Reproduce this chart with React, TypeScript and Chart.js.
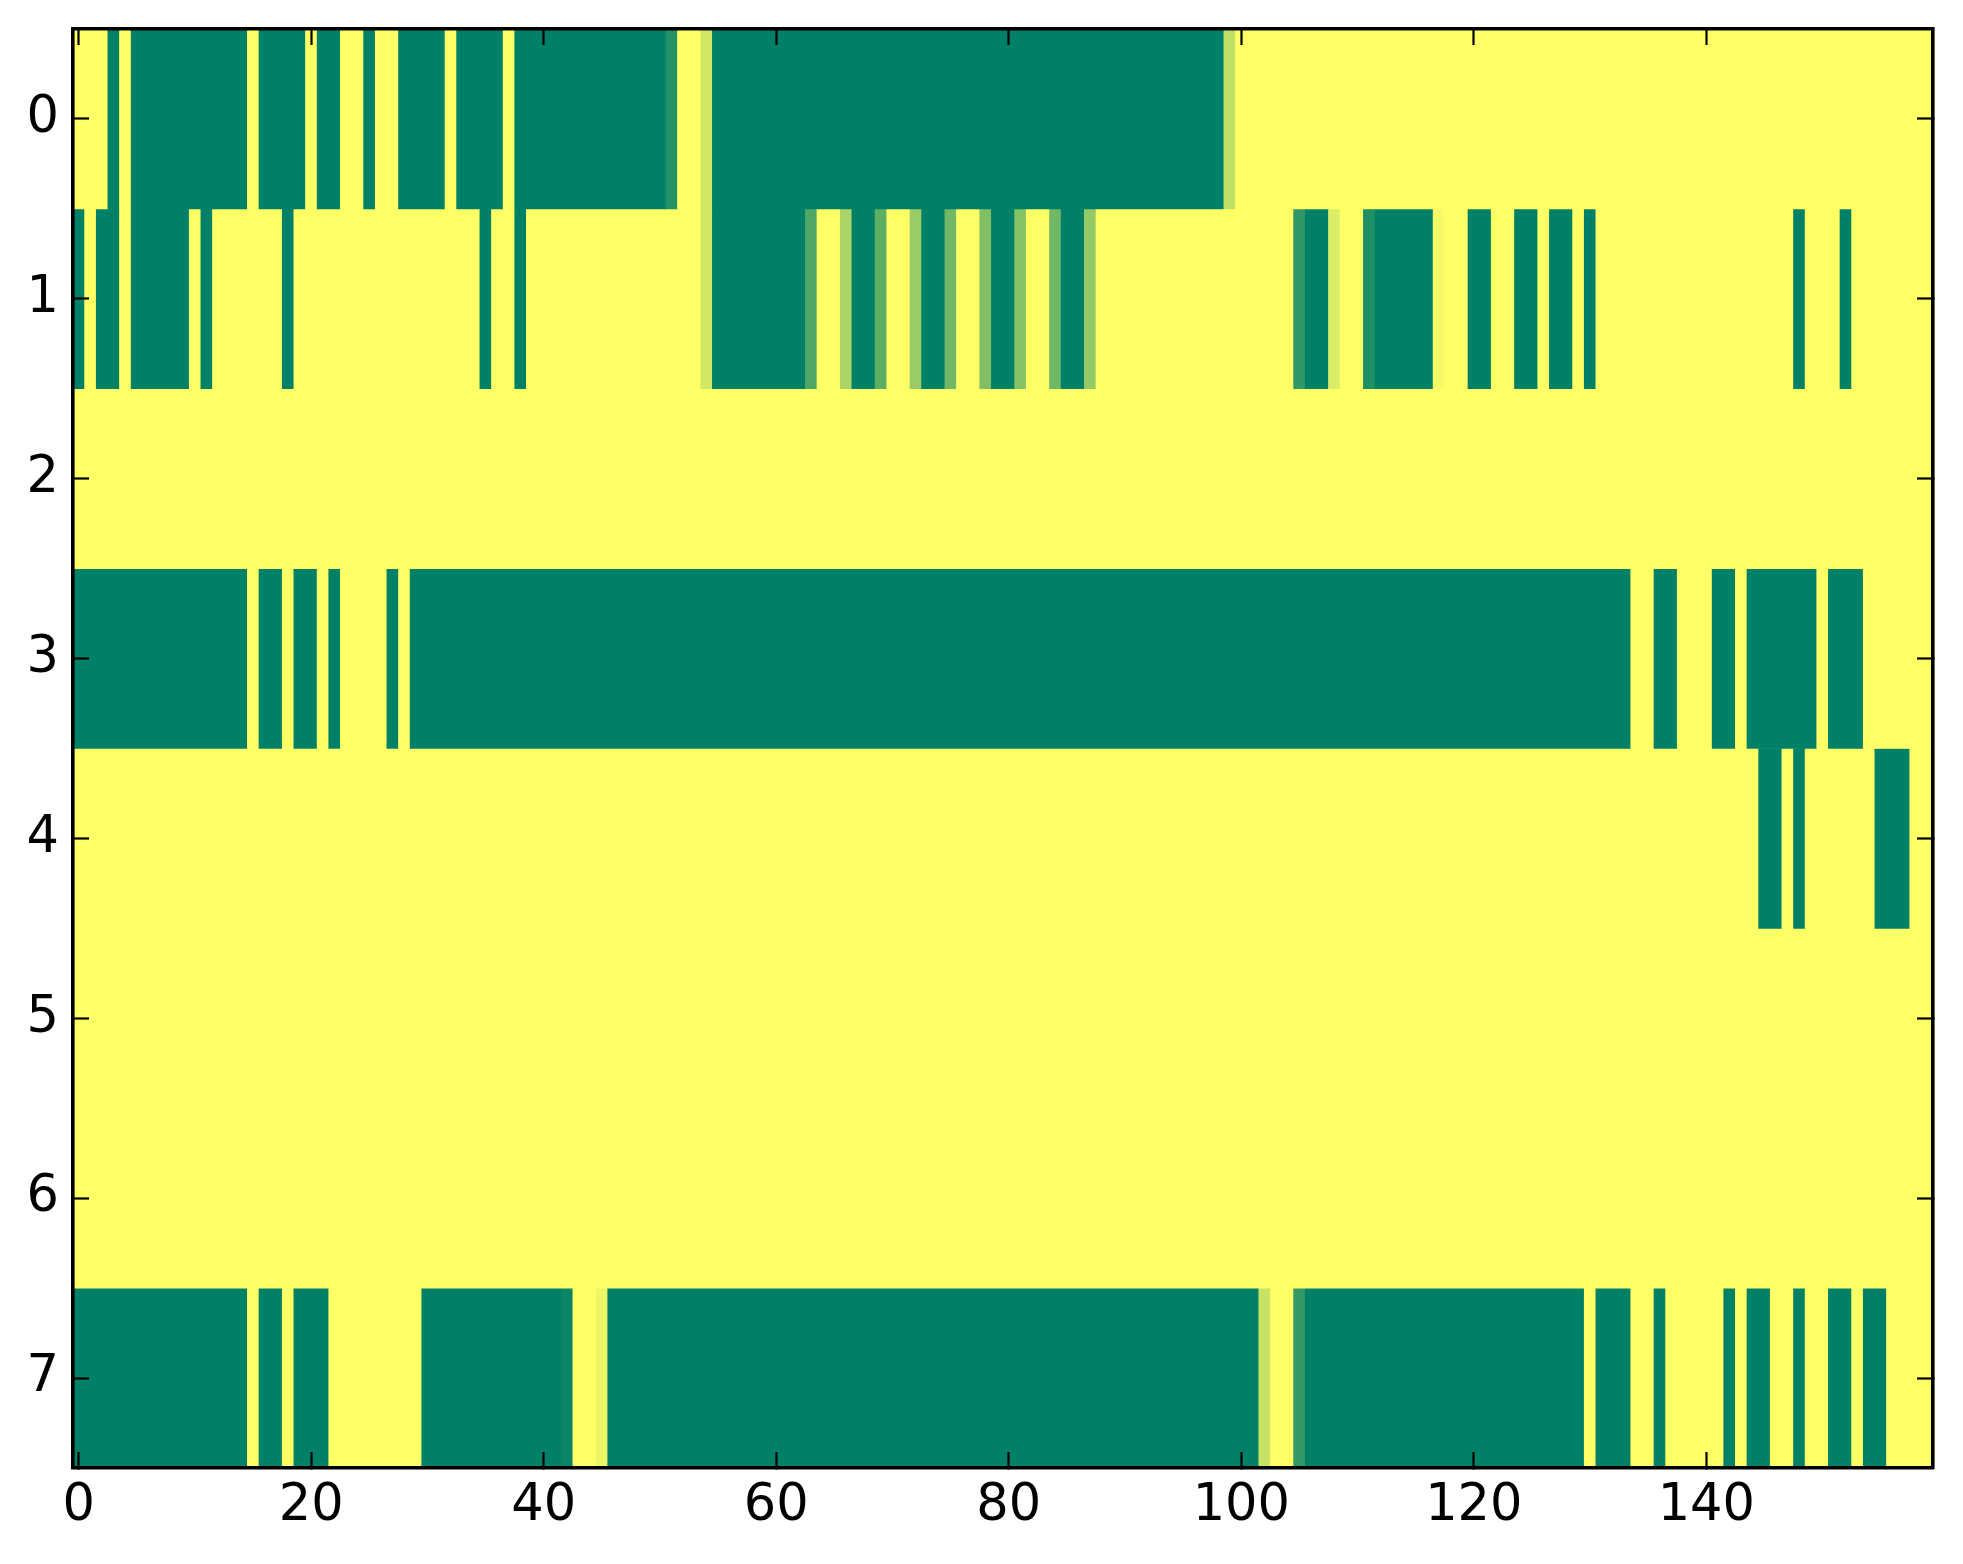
import React, { useEffect, useRef } from "react";
import { Chart, registerables } from "chart.js";

Chart.register(...registerables);

// Row labels (y axis) and x tick values
const ROW_LABELS = [0, 1, 2, 3, 4, 5, 6, 7];
const X_TICKS = [0, 20, 40, 60, 80, 100, 120, 140];
const N_COLS = 160;

// Heatmap values (0 = green, 1 = yellow), one array per row, 160 columns each
const row0 = [
  1, 1, 1, 0, 1, 0, 0, 0, 0, 0,
  0, 0, 0, 0, 0, 1, 0, 0, 0, 0,
  1, 0, 0, 1, 1, 0, 1, 1, 0, 0,
  0, 0, 1, 0, 0, 0, 0, 1, 0, 0,
  0, 0, 0, 0, 0, 0, 0, 0, 0, 0,
  0, 0.14, 1, 1, 0.82, 0, 0, 0, 0, 0,
  0, 0, 0, 0, 0, 0, 0, 0, 0, 0,
  0, 0, 0, 0, 0, 0, 0, 0, 0, 0,
  0, 0, 0, 0, 0, 0, 0, 0, 0, 0,
  0, 0, 0, 0, 0, 0, 0, 0, 0, 0.75,
  1, 1, 1, 1, 1, 1, 1, 1, 1, 1,
  1, 1, 1, 1, 1, 1, 1, 1, 1, 1,
  1, 1, 1, 1, 1, 1, 1, 1, 1, 1,
  1, 1, 1, 1, 1, 1, 1, 1, 1, 1,
  1, 1, 1, 1, 1, 1, 1, 1, 1, 1,
  1, 1, 1, 1, 1, 1, 1, 1, 1, 1,
];

const row1 = [
  0, 1, 0, 0, 1, 0, 0, 0, 0, 0,
  1, 0, 1, 1, 1, 1, 1, 1, 0, 1,
  1, 1, 1, 1, 1, 1, 1, 1, 1, 1,
  1, 1, 1, 1, 1, 0, 1, 1, 0, 1,
  1, 1, 1, 1, 1, 1, 1, 1, 1, 1,
  1, 1, 1, 1, 0.82, 0, 0, 0, 0, 0,
  0, 0, 0, 0.31, 1, 1, 0.67, 0, 0, 0.37,
  1, 1, 0.6, 0, 0, 0.44, 1, 1, 0.5, 0,
  0, 0.52, 1, 1, 0.44, 0, 0, 0.58, 1, 1,
  1, 1, 1, 1, 1, 1, 1, 1, 1, 1,
  1, 1, 1, 1, 1, 0.19, 0, 0, 0.86, 1,
  1, 0.12, 0, 0, 0, 0, 0, 0.96, 1, 1,
  0, 0, 1, 1, 0, 0, 1, 0, 0, 1,
  0, 1, 1, 1, 1, 1, 1, 1, 1, 1,
  1, 1, 1, 1, 1, 1, 1, 1, 0, 1,
  1, 1, 0, 1, 1, 1, 1, 1, 1, 1,
];

const row2 = [
  1, 1, 1, 1, 1, 1, 1, 1, 1, 1,
  1, 1, 1, 1, 1, 1, 1, 1, 1, 1,
  1, 1, 1, 1, 1, 1, 1, 1, 1, 1,
  1, 1, 1, 1, 1, 1, 1, 1, 1, 1,
  1, 1, 1, 1, 1, 1, 1, 1, 1, 1,
  1, 1, 1, 1, 1, 1, 1, 1, 1, 1,
  1, 1, 1, 1, 1, 1, 1, 1, 1, 1,
  1, 1, 1, 1, 1, 1, 1, 1, 1, 1,
  1, 1, 1, 1, 1, 1, 1, 1, 1, 1,
  1, 1, 1, 1, 1, 1, 1, 1, 1, 1,
  1, 1, 1, 1, 1, 1, 1, 1, 1, 1,
  1, 1, 1, 1, 1, 1, 1, 1, 1, 1,
  1, 1, 1, 1, 1, 1, 1, 1, 1, 1,
  1, 1, 1, 1, 1, 1, 1, 1, 1, 1,
  1, 1, 1, 1, 1, 1, 1, 1, 1, 1,
  1, 1, 1, 1, 1, 1, 1, 1, 1, 1,
];

const row3 = [
  0, 0, 0, 0, 0, 0, 0, 0, 0, 0,
  0, 0, 0, 0, 0, 1, 0, 0, 1, 0,
  0, 1, 0, 1, 1, 1, 1, 0, 1, 0,
  0, 0, 0, 0, 0, 0, 0, 0, 0, 0,
  0, 0, 0, 0, 0, 0, 0, 0, 0, 0,
  0, 0, 0, 0, 0, 0, 0, 0, 0, 0,
  0, 0, 0, 0, 0, 0, 0, 0, 0, 0,
  0, 0, 0, 0, 0, 0, 0, 0, 0, 0,
  0, 0, 0, 0, 0, 0, 0, 0, 0, 0,
  0, 0, 0, 0, 0, 0, 0, 0, 0, 0,
  0, 0, 0, 0, 0, 0, 0, 0, 0, 0,
  0, 0, 0, 0, 0, 0, 0, 0, 0, 0,
  0, 0, 0, 0, 0, 0, 0, 0, 0, 0,
  0, 0, 0, 0, 1, 1, 0, 0, 1, 1,
  1, 0, 0, 1, 0, 0, 0, 0, 0, 0,
  1, 0, 0, 0, 1, 1, 1, 1, 1, 1,
];

const row4 = [
  1, 1, 1, 1, 1, 1, 1, 1, 1, 1,
  1, 1, 1, 1, 1, 1, 1, 1, 1, 1,
  1, 1, 1, 1, 1, 1, 1, 1, 1, 1,
  1, 1, 1, 1, 1, 1, 1, 1, 1, 1,
  1, 1, 1, 1, 1, 1, 1, 1, 1, 1,
  1, 1, 1, 1, 1, 1, 1, 1, 1, 1,
  1, 1, 1, 1, 1, 1, 1, 1, 1, 1,
  1, 1, 1, 1, 1, 1, 1, 1, 1, 1,
  1, 1, 1, 1, 1, 1, 1, 1, 1, 1,
  1, 1, 1, 1, 1, 1, 1, 1, 1, 1,
  1, 1, 1, 1, 1, 1, 1, 1, 1, 1,
  1, 1, 1, 1, 1, 1, 1, 1, 1, 1,
  1, 1, 1, 1, 1, 1, 1, 1, 1, 1,
  1, 1, 1, 1, 1, 1, 1, 1, 1, 1,
  1, 1, 1, 1, 1, 0, 0, 1, 0, 1,
  1, 1, 1, 1, 1, 0, 0, 0, 1, 1,
];

const row5 = [
  1, 1, 1, 1, 1, 1, 1, 1, 1, 1,
  1, 1, 1, 1, 1, 1, 1, 1, 1, 1,
  1, 1, 1, 1, 1, 1, 1, 1, 1, 1,
  1, 1, 1, 1, 1, 1, 1, 1, 1, 1,
  1, 1, 1, 1, 1, 1, 1, 1, 1, 1,
  1, 1, 1, 1, 1, 1, 1, 1, 1, 1,
  1, 1, 1, 1, 1, 1, 1, 1, 1, 1,
  1, 1, 1, 1, 1, 1, 1, 1, 1, 1,
  1, 1, 1, 1, 1, 1, 1, 1, 1, 1,
  1, 1, 1, 1, 1, 1, 1, 1, 1, 1,
  1, 1, 1, 1, 1, 1, 1, 1, 1, 1,
  1, 1, 1, 1, 1, 1, 1, 1, 1, 1,
  1, 1, 1, 1, 1, 1, 1, 1, 1, 1,
  1, 1, 1, 1, 1, 1, 1, 1, 1, 1,
  1, 1, 1, 1, 1, 1, 1, 1, 1, 1,
  1, 1, 1, 1, 1, 1, 1, 1, 1, 1,
];

const row6 = [
  1, 1, 1, 1, 1, 1, 1, 1, 1, 1,
  1, 1, 1, 1, 1, 1, 1, 1, 1, 1,
  1, 1, 1, 1, 1, 1, 1, 1, 1, 1,
  1, 1, 1, 1, 1, 1, 1, 1, 1, 1,
  1, 1, 1, 1, 1, 1, 1, 1, 1, 1,
  1, 1, 1, 1, 1, 1, 1, 1, 1, 1,
  1, 1, 1, 1, 1, 1, 1, 1, 1, 1,
  1, 1, 1, 1, 1, 1, 1, 1, 1, 1,
  1, 1, 1, 1, 1, 1, 1, 1, 1, 1,
  1, 1, 1, 1, 1, 1, 1, 1, 1, 1,
  1, 1, 1, 1, 1, 1, 1, 1, 1, 1,
  1, 1, 1, 1, 1, 1, 1, 1, 1, 1,
  1, 1, 1, 1, 1, 1, 1, 1, 1, 1,
  1, 1, 1, 1, 1, 1, 1, 1, 1, 1,
  1, 1, 1, 1, 1, 1, 1, 1, 1, 1,
  1, 1, 1, 1, 1, 1, 1, 1, 1, 1,
];

const row7 = [
  0, 0, 0, 0, 0, 0, 0, 0, 0, 0,
  0, 0, 0, 0, 0, 1, 0, 0, 1, 0,
  0, 0, 1, 1, 1, 1, 1, 1, 1, 1,
  0, 0, 0, 0, 0, 0, 0, 0, 0, 0,
  0, 0, 0.04, 1, 1, 0.93, 0, 0, 0, 0,
  0, 0, 0, 0, 0, 0, 0, 0, 0, 0,
  0, 0, 0, 0, 0, 0, 0, 0, 0, 0,
  0, 0, 0, 0, 0, 0, 0, 0, 0, 0,
  0, 0, 0, 0, 0, 0, 0, 0, 0, 0,
  0, 0, 0, 0, 0, 0, 0, 0, 0, 0,
  0, 0, 0.78, 1, 1, 0.2, 0, 0, 0, 0,
  0, 0, 0, 0, 0, 0, 0, 0, 0, 0,
  0, 0, 0, 0, 0, 0, 0, 0, 0, 0,
  1, 0, 0, 0, 1, 1, 0, 1, 1, 1,
  1, 1, 0, 1, 0, 0, 1, 1, 0, 1,
  1, 0, 0, 1, 0, 0, 1, 1, 1, 1,
];

const MATRIX = [row0, row1, row2, row3, row4, row5, row6, row7];

// matplotlib "summer" colormap: (v, 0.5 + 0.5 v, 0.4)
function summer(v: number): string {
  const r = Math.round(255 * v);
  const g = Math.round(255 * (0.5 + 0.5 * v));
  return `rgb(${r},${g},102)`;
}

type Seg = { x: [number, number]; y: number; v: number };

function rowSegments(row: number[], r: number): Seg[] {
  const segs: Seg[] = [];
  let start = 0;
  for (let c = 1; c <= row.length; c++) {
    if (c === row.length || row[c] !== row[start]) {
      segs.push({ x: [start - 0.5, c - 0.5], y: ROW_LABELS[r], v: row[start] });
      start = c;
    }
  }
  return segs;
}

const FONT = { family: "'DejaVu Sans', sans-serif", size: 51 };
const W = 1963;
const H = 1564;

export default function App() {
  const ref = useRef<HTMLCanvasElement | null>(null);

  useEffect(() => {
    if (!ref.current) return;
    const datasets = MATRIX.map((row, r) => {
      const segs = rowSegments(row, r);
      return {
        label: `row ${r}`,
        data: segs as any,
        backgroundColor: segs.map((s) => summer(s.v)),
        borderWidth: 0,
        barPercentage: 1,
        categoryPercentage: 1,
        grouped: false,
        xAxisID: "x",
        yAxisID: "y",
      };
    });

    const xTicksCb = (axis: any) => {
      axis.ticks = X_TICKS.map((v) => ({ value: v }));
    };
    const yTicksCb = (axis: any) => {
      axis.ticks = ROW_LABELS.map((v) => ({ value: v }));
    };
    const fitTo = (size: number, horizontal: boolean) => (s: any) => {
      if (horizontal) s.height = size;
      else s.width = size;
      s.paddingTop = 0;
      s.paddingBottom = 0;
      s.paddingLeft = 0;
      s.paddingRight = 0;
    };

    const gridCommon = {
      drawOnChartArea: false,
      drawTicks: true,
      tickLength: -16,
      tickWidth: 2.2,
      tickColor: "#000",
      offset: false,
      z: 2,
    };
    const borderCommon = { display: true, color: "#000", width: 3.6, z: 2 };

    const chart = new Chart(ref.current, {
      type: "bar",
      data: { datasets: datasets as any },
      options: {
        indexAxis: "y",
        animation: false,
        responsive: false,
        maintainAspectRatio: false,
        devicePixelRatio: 1,
        events: [],
        layout: { padding: 0 },
        plugins: {
          legend: { display: false },
          tooltip: { enabled: false },
          title: { display: false },
        },
        scales: {
          x: {
            type: "linear",
            position: "bottom",
            min: -0.5,
            max: N_COLS - 0.5,
            offset: false,
            afterBuildTicks: xTicksCb,
            afterFit: fitTo(96, true),
            grid: gridCommon,
            border: borderCommon,
            ticks: {
              font: FONT,
              color: "#000",
              padding: 24,
              maxRotation: 0,
              autoSkip: false,
              z: 2,
            },
          },
          x2: {
            type: "linear",
            position: "top",
            min: -0.5,
            max: N_COLS - 0.5,
            offset: false,
            afterBuildTicks: xTicksCb,
            afterFit: fitTo(29, true),
            grid: gridCommon,
            border: borderCommon,
            ticks: { display: false },
          },
          y: {
            type: "linear",
            position: "left",
            min: -0.5,
            max: 7.5,
            reverse: true,
            offset: false,
            afterBuildTicks: yTicksCb,
            afterFit: fitTo(73, false),
            grid: gridCommon,
            border: borderCommon,
            ticks: {
              font: FONT,
              color: "#000",
              padding: 30,
              autoSkip: false,
              z: 2,
            },
          },
          y2: {
            type: "linear",
            position: "right",
            min: -0.5,
            max: 7.5,
            reverse: true,
            offset: false,
            afterBuildTicks: yTicksCb,
            afterFit: fitTo(30, false),
            grid: gridCommon,
            border: borderCommon,
            ticks: { display: false },
          },
        },
      } as any,
    });
    return () => chart.destroy();
  }, []);

  return (
    <div
      style={{
        position: "absolute",
        left: 0,
        top: 0,
        width: W,
        height: H,
        background: "#fff",
      }}
    >
      <canvas ref={ref} width={W} height={H} style={{ width: W, height: H, display: "block" }} />
    </div>
  );
}
